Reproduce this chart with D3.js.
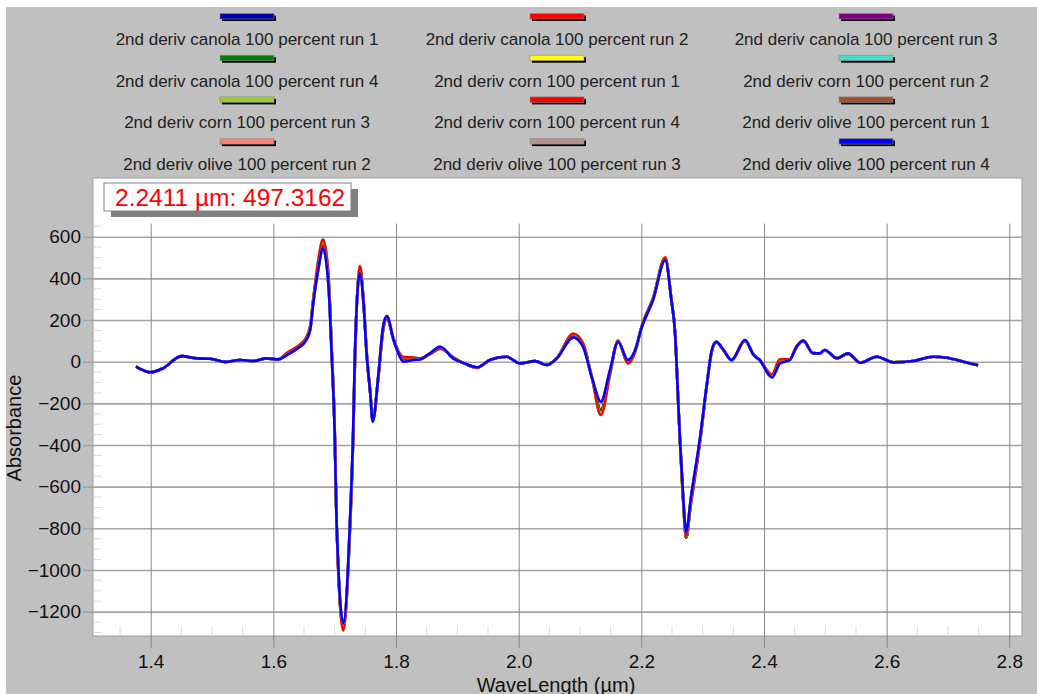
<!DOCTYPE html>
<html>
<head>
<meta charset="utf-8">
<script src="https://cdn.jsdelivr.net/npm/d3@7"></script>
<style>
  body { margin: 0; background: #fff; }
  text { font-family: "Liberation Sans", Arial, sans-serif; }
</style>
</head>
<body>
<script>

// Wavelength grid (µm) shared by every run
var waveLength = [1.376,1.399,1.42,1.45,1.475,1.497,1.521,1.546,1.567,1.589,
  1.608,1.622,1.643,1.652,1.66,1.665,1.673,1.681,1.69,1.695,
  1.70,1.703,1.714,1.725,1.73,1.733,1.741,1.747,1.752,1.758,
  1.762,1.771,1.779,1.785,1.796,1.804,1.812,1.828,1.839,1.855,
  1.872,1.893,1.912,1.932,1.953,1.98,2.002,2.027,2.046,2.062,
  2.089,2.105,2.119,2.134,2.149,2.162,2.178,2.19,2.2,2.219,
  2.239,2.249,2.255,2.26,2.263,2.268,2.273,2.281,2.296,2.307,
  2.315,2.322,2.334,2.347,2.369,2.383,2.393,2.413,2.426,2.442,
  2.453,2.464,2.48,2.491,2.499,2.519,2.537,2.557,2.584,2.611,
  2.643,2.676,2.698,2.725,2.749];

// 2nd derivative absorbance
var absCanola = [-24,-51,-32,27,16,14,-1,8,3,16,
  11,38,78,102,162,292,462,570,390,58,
  -330,-765,-1275,-785,-370,10,445,292,48,-150,
  -282,-76,160,212,108,46,12,14,13,38,
  68,18,-9,-28,8,24,-8,3,-16,16,
  128,80,-72,-232,-50,98,0,52,162,300,
  495,298,138,-182,-378,-650,-845,-668,-372,-106,
  54,94,56,7,102,33,8,-70,2,10,
  71,100,41,40,55,17,39,-5,24,-3,
  3,24,19,0,-17];

var absCorn = [-24,-51,-32,27,16,14,-1,8,3,16,
  11,42,82,108,170,300,480,587,410,70,
  -320,-770,-1290,-800,-390,-10,459,300,50,-150,
  -280,-80,150,205,110,50,22,20,16,35,
  62,22,-10,-30,8,24,-8,3,-16,16,
  134,88,-70,-256,-60,102,-8,48,165,305,
  500,300,140,-180,-380,-660,-838,-680,-380,-110,
  50,92,56,6,100,34,8,-62,12,12,
  70,98,42,40,54,18,38,-4,24,-3,
  3,24,19,0,-17];

var absOlive = [-24,-51,-32,27,16,14,-1,8,3,16,
  11,32,72,96,152,280,440,544,360,40,
  -342,-760,-1256,-760,-342,40,424,280,40,-152,
  -288,-72,168,219,104,40,0,8,11,40,
  72,16,-8,-27,8,24,-8,3,-16,16,
  117,72,-72,-192,-40,96,8,56,160,296,
  488,296,136,-184,-376,-640,-818,-650,-360,-104,
  56,96,56,8,104,32,8,-75,-8,8,
  72,101,40,40,56,16,40,-5,24,-3,
  3,24,19,0,-17];

var seriesNames = [
  "2nd deriv canola 100 percent run 1", "2nd deriv canola 100 percent run 2", "2nd deriv canola 100 percent run 3",
  "2nd deriv canola 100 percent run 4", "2nd deriv corn 100 percent run 1", "2nd deriv corn 100 percent run 2",
  "2nd deriv corn 100 percent run 3", "2nd deriv corn 100 percent run 4", "2nd deriv olive 100 percent run 1",
  "2nd deriv olive 100 percent run 2", "2nd deriv olive 100 percent run 3", "2nd deriv olive 100 percent run 4"];
var seriesValues = [absCanola, absCanola, absCanola, absCanola,
  absCorn, absCorn, absCorn, absCorn,
  absOlive, absOlive, absOlive, absOlive];
var seriesColors = ["#0000aa", "#ff0000", "#800080", "#008000", "#ffff00", "#40e0d0",
  "#9acd32", "#ff0000", "#a0522d", "#fa8072", "#bc8f8f", "#0000ff"];

var xTicks = [1.4, 1.6, 1.8, 2.0, 2.2, 2.4, 2.6, 2.8];
var yTicks = [-1200, -1000, -800, -600, -400, -200, 0, 200, 400, 600];

var cursorWave = 2.2411, cursorValue = 497.3162;

var svg = d3.select("body").append("svg").attr("width",1037).attr("height",694);

// grey panel and white plot box
svg.append("rect").attr("x",6).attr("y",7).attr("width",1031).attr("height",687).attr("fill","#c0c0c0");

var plotL = 93, plotR = 1022, plotT = 178, plotB = 636;

svg.append("rect")
    .attr("x",plotL).attr("y",plotT)
    .attr("width",plotR-plotL).attr("height",plotB-plotT)
    .attr("fill","#fff").attr("stroke","#a0a0a0");

var x = d3.scaleLinear().domain([1.3059, 2.8207]).range([plotL, plotR]);
var y = d3.scaleLinear().domain([-1317, 882]).range([plotB, plotT]);

// minor ticks
var minor = svg.append("g").attr("stroke","#dcdcdc").attr("stroke-width",1);
d3.range(-1300, 651, 50).filter(function(v){ return v % 200 != 0; }).forEach(function(v){
  minor.append("line").attr("x1",plotL).attr("x2",plotL+9).attr("y1",y(v)).attr("y2",y(v));
});
d3.range(27, 57).map(function(i){ return i*0.05; }).filter(function(v){ return Math.abs(v*5 - Math.round(v*5)) > 0.01; }).forEach(function(v){
  minor.append("line").attr("x1",x(v)).attr("x2",x(v)).attr("y1",plotB-10).attr("y2",plotB);
});

// y axis with gridlines
var yAxis = svg.append("g")
    .attr("transform","translate(" + (plotL-10) + ",0)")
    .call(d3.axisLeft(y).tickValues(yTicks).tickSize(-(plotR-plotL+10)).tickPadding(2).tickFormat(d3.format("d")));
yAxis.select(".domain").remove();
yAxis.selectAll("line").attr("stroke","#a4a4a4").attr("stroke-width",1.6);
yAxis.selectAll("text").attr("font-size",19).attr("fill","#111").attr("font-family","Liberation Sans, Arial, sans-serif");

// x axis with gridlines
var xAxis = svg.append("g")
    .attr("transform","translate(0," + (plotB+12) + ")")
    .call(d3.axisBottom(x).tickValues(xTicks).tickSize(-(plotB+12-y(663))).tickPadding(6.5).tickFormat(d3.format(".1f")));
xAxis.select(".domain").remove();
xAxis.selectAll("line").attr("stroke","#888").attr("stroke-width",1);
xAxis.selectAll("text").attr("font-size",19).attr("fill","#111").attr("font-family","Liberation Sans, Arial, sans-serif");

// spectra
var line = d3.line()
    .x(function(d){ return x(d[0]); })
    .y(function(d){ return y(d[1]); })
    .curve(d3.curveMonotoneX);

seriesValues.forEach(function(vals, i){
  svg.append("path")
      .attr("d", line(d3.zip(waveLength, vals)))
      .attr("fill","none")
      .attr("stroke",seriesColors[i])
      .attr("stroke-width",2.6)
      .attr("stroke-linejoin","round");
});

// cursor readout box
svg.append("rect").attr("x",111).attr("y",189).attr("width",247).attr("height",28).attr("fill","#808080");
svg.append("rect").attr("x",104).attr("y",183).attr("width",247).attr("height",28)
    .attr("fill","#fff").attr("stroke","#808080");
svg.append("text").attr("x",115).attr("y",205.5)
    .attr("font-size",24.5).attr("fill","#ff0000")
    .text(cursorWave.toFixed(4) + " µm: " + cursorValue.toFixed(4));

// axis titles
svg.append("text")
    .attr("transform","translate(21,428) rotate(-90)")
    .attr("text-anchor","middle").attr("font-size",20).attr("fill","#111")
    .text("Absorbance");
svg.append("text")
    .attr("x",556).attr("y",692)
    .attr("text-anchor","middle").attr("font-size",20).attr("fill","#111")
    .text("WaveLength (µm)");

// legend, 3 columns x 4 rows
var colX = [247, 557, 866];
var legend = svg.append("g");
seriesNames.forEach(function(name, i){
  var cx = colX[i % 3], r = Math.floor(i / 3);
  var sy = 13.5 + r*41.7;
  legend.append("rect").attr("x",cx-27+2).attr("y",sy+2).attr("width",54).attr("height",5.5).attr("fill","#000");
  legend.append("rect").attr("x",cx-27).attr("y",sy).attr("width",54).attr("height",5.5)
      .attr("fill",seriesColors[i]).attr("stroke","#8a8a8a").attr("stroke-width",0.6);
  legend.append("text").attr("x",cx).attr("y",45 + r*41.5)
      .attr("text-anchor","middle").attr("font-size",17).attr("fill","#222")
      .text(name);
});

</script>
</body>
</html>
